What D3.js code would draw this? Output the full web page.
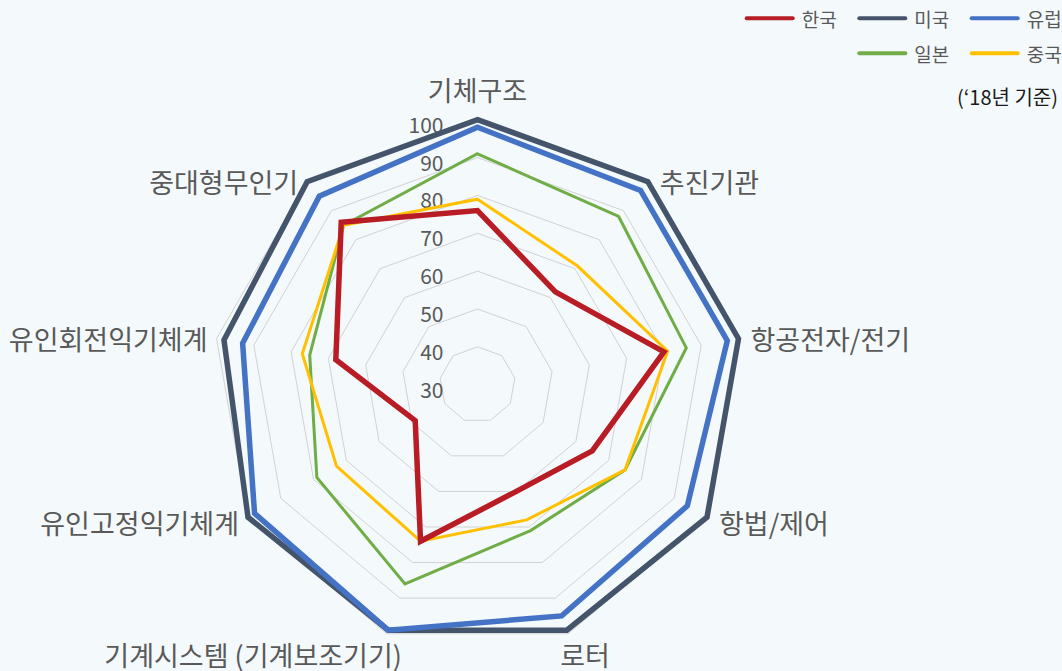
<!DOCTYPE html>
<html>
<head>
<meta charset="utf-8">
<script src="https://cdn.jsdelivr.net/npm/d3@7"></script>
<style>
  html, body { margin: 0; padding: 0; background: #f4f9fc; }
  svg { display: block; font-family: "Noto Sans CJK KR", "Noto Sans", sans-serif; }
</style>
</head>
<body>
<script>
// categories, clockwise from the top
const categories = ['기체구조', '추진기관', '항공전자/전기', '항법/제어', '로터',
  '기계시스템 (기계보조기기)', '유인고정익기체계', '유인회전익기체계', '중대형무인기'];

// values
const korea  = [76, 62, 80, 65, 60, 74, 49, 68, 86];
const usa    = [100, 100, 100, 100, 99, 99, 100, 98, 100];
const europe = [98, 97, 97, 94, 95, 99, 98, 93, 95];
const japan  = [91, 88, 86, 75, 71, 86, 79, 75, 85];
const china  = [79, 71, 81, 75, 68, 74, 73, 77, 85];

const seriesNames = ['한국', '미국', '유럽', '일본', '중국'];
const tickValues = [30, 40, 50, 60, 70, 80, 90, 100];
const note = '(‘18년 기준)';

const width = 1062, height = 671;
const cx = 477.5, cy = 384.7;

const colors = {'한국': '#b81c24', '미국': '#44546a', '유럽': '#4472c4', '일본': '#70ad47', '중국': '#ffc000'};
const widths = {'한국': 5.5, '미국': 5.5, '유럽': 5.5, '일본': 3, '중국': 3};
const valuesBy = {'한국': korea, '미국': usa, '유럽': europe, '일본': japan, '중국': china};

const svg = d3.select('body').append('svg')
  .attr('width', width)
  .attr('height', height);

svg.append('rect').attr('width', width).attr('height', height).attr('fill', '#f4f9fc');

const r = d3.scaleLinear().domain([30, 100]).range([0, 265]);
const angle = d3.scalePoint().domain(d3.range(categories.length + 1)).range([0, 2 * Math.PI]);

const g = svg.append('g').attr('transform', `translate(${cx},${cy})`);

const radial = d3.lineRadial()
  .angle((d, i) => angle(i))
  .radius(d => r(d))
  .curve(d3.curveLinearClosed);

// grid rings
g.selectAll('path.ring')
  .data(tickValues.filter(t => t > 30))
  .join('path')
  .attr('class', 'ring')
  .attr('d', t => radial(categories.map(() => t)))
  .attr('fill', 'none')
  .attr('stroke', '#d2d2d2')
  .attr('stroke-width', 1);

// tick labels
g.selectAll('text.tick')
  .data(tickValues)
  .join('text')
  .attr('class', 'tick')
  .attr('x', -34)
  .attr('y', t => -r(t) + 4)
  .attr('text-anchor', 'end')
  .attr('dominant-baseline', 'central')
  .attr('font-size', 21)
  .attr('fill', '#595959')
  .text(t => t);

// series, red drawn last so it sits on top
const drawOrder = ['미국', '유럽', '일본', '중국', '한국'];
g.selectAll('path.series')
  .data(drawOrder)
  .join('path')
  .attr('class', 'series')
  .attr('d', name => radial(valuesBy[name]))
  .attr('fill', 'none')
  .attr('stroke', name => colors[name])
  .attr('stroke-width', name => widths[name])
  .attr('stroke-linejoin', 'miter');

// category labels
categories.forEach((c, i) => {
  const a = angle(i);
  const s = Math.sin(a), k = Math.cos(a);
  const px = s * r(100), py = -k * r(100);
  let x = px, y = py, anchor = 'middle';
  if (k > 0.9) {
    y = py - 30;
  } else if (k < -0.9) {
    anchor = s > 0 ? 'start' : 'end';
    x = px + (s > 0 ? -8 : 15);
    y = py + 21;
  } else {
    anchor = s > 0 ? 'start' : 'end';
    x = px + (s > 0 ? 12 : -9);
    y = py + (k < 0 ? 5 : 0);
  }
  g.append('text')
    .attr('x', x)
    .attr('y', y)
    .attr('text-anchor', anchor)
    .attr('dominant-baseline', 'central')
    .attr('font-size', 27)
    .attr('fill', '#595959')
    .text(c);
});

// legend: 3 per row, right aligned
const colX = [746.7, 859.3, 971.7];
const rowY = [18.3, 53.3];
const legend = svg.append('g');
seriesNames.forEach((name, i) => {
  const row = Math.floor(i / 3);
  const inRow = Math.min(3, seriesNames.length - row * 3);
  const col = (i % 3) + (3 - inRow);
  const x = colX[col], y = rowY[row];
  legend.append('line')
    .attr('x1', x).attr('x2', x + 46)
    .attr('y1', y).attr('y2', y)
    .attr('stroke', colors[name])
    .attr('stroke-width', 4)
    .attr('stroke-linecap', 'round');
  legend.append('text')
    .attr('x', x + 55)
    .attr('y', y)
    .attr('dominant-baseline', 'central')
    .attr('font-size', 19)
    .attr('fill', '#595959')
    .text(name);
});

svg.append('text')
  .attr('x', 1058)
  .attr('y', 96.5)
  .attr('text-anchor', 'end')
  .attr('dominant-baseline', 'central')
  .attr('font-size', 20)
  .attr('fill', '#1a1a1a')
  .text(note);
</script>
</body>
</html>
